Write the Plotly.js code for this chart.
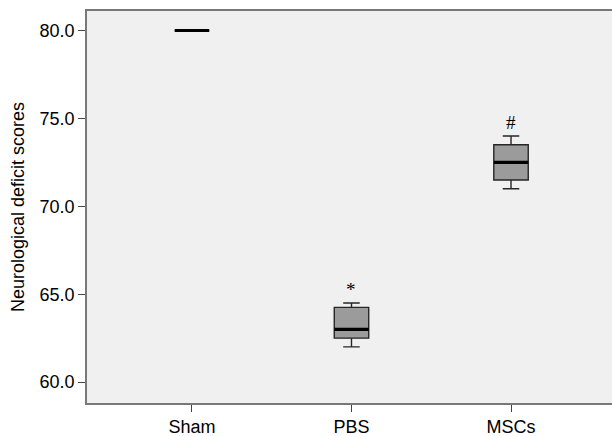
<!DOCTYPE html>
<html>
<head>
<meta charset="utf-8">
<script src="https://cdn.plot.ly/plotly-3.0.1.min.js"></script>
<style>html,body{margin:0;padding:0;background:#fff;}#chart{width:612px;height:436px;}</style>
</head>
<body>
<div id="chart"></div>
<script>
const categories = ['Sham', 'PBS', 'MSCs'];
const lowerWhisker = [80.0, 62.0, 71.0];
const q1 = [80.0, 62.5, 71.5];
const median = [80.0, 63.0, 72.5];
const q3 = [80.0, 64.25, 73.5];
const upperWhisker = [80.0, 64.5, 74.0];
const sigMarks = ['', '*', '#'];
const sigMarkY = [null, 65.25, 74.75];
const yTicks = [60, 65, 70, 75, 80];

const boxTrace = {
  type: 'box',
  x: categories,
  q1: q1,
  median: median,
  q3: q3,
  lowerfence: lowerWhisker,
  upperfence: upperWhisker,
  width: 0.216,
  whiskerwidth: 0.48,
  fillcolor: '#9b9b9b',
  line: {color: '#262626', width: 1.4},
  boxpoints: false,
  hoverinfo: 'skip',
  showlegend: false
};
const medianTrace = {
  type: 'box',
  x: categories,
  q1: median,
  median: median,
  q3: median,
  lowerfence: median,
  upperfence: median,
  width: 0.216,
  whiskerwidth: 0,
  fillcolor: 'rgba(0,0,0,0)',
  line: {color: '#000000', width: 3.2},
  boxpoints: false,
  hoverinfo: 'skip',
  showlegend: false
};

const annotations = [];
categories.forEach((c, i) => {
  if (sigMarks[i]) {
    annotations.push({
      x: c, y: sigMarkY[i], xref: 'x', yref: 'y',
      text: sigMarks[i], showarrow: false,
      xanchor: 'center', yanchor: 'middle',
      font: {family: 'Liberation Serif, serif', size: 19, color: '#000'}
    });
  }
});

const layout = {
  width: 612, height: 436,
  margin: {l: 87, r: 0, t: 11, b: 33, pad: 0},
  paper_bgcolor: '#ffffff',
  plot_bgcolor: '#f0f0f0',
  font: {family: 'Liberation Sans, Arial, sans-serif', size: 18, color: '#000'},
  xaxis: {
    type: 'category',
    range: [-0.658, 2.633],
    showgrid: false, zeroline: false,
    showline: true, linecolor: '#787878', linewidth: 1.8, mirror: true,
    ticks: 'outside', ticklen: 7, tickwidth: 1, tickcolor: '#444',
    tickfont: {size: 18}
  },
  yaxis: {
    range: [58.81, 81.11],
    tickvals: yTicks,
    tickformat: '.1f',
    showgrid: false, zeroline: false,
    showline: true, linecolor: '#787878', linewidth: 1.8, mirror: false,
    ticks: 'outside', ticklen: 7, tickwidth: 1, tickcolor: '#444',
    tickfont: {size: 18},
    title: {text: 'Neurological deficit scores', font: {size: 18}, standoff: 10}
  },
  annotations: annotations,
  boxgap: 0
};

Plotly.newPlot('chart', [boxTrace, medianTrace], layout, {displayModeBar: false, staticPlot: true});
</script>
</body>
</html>
